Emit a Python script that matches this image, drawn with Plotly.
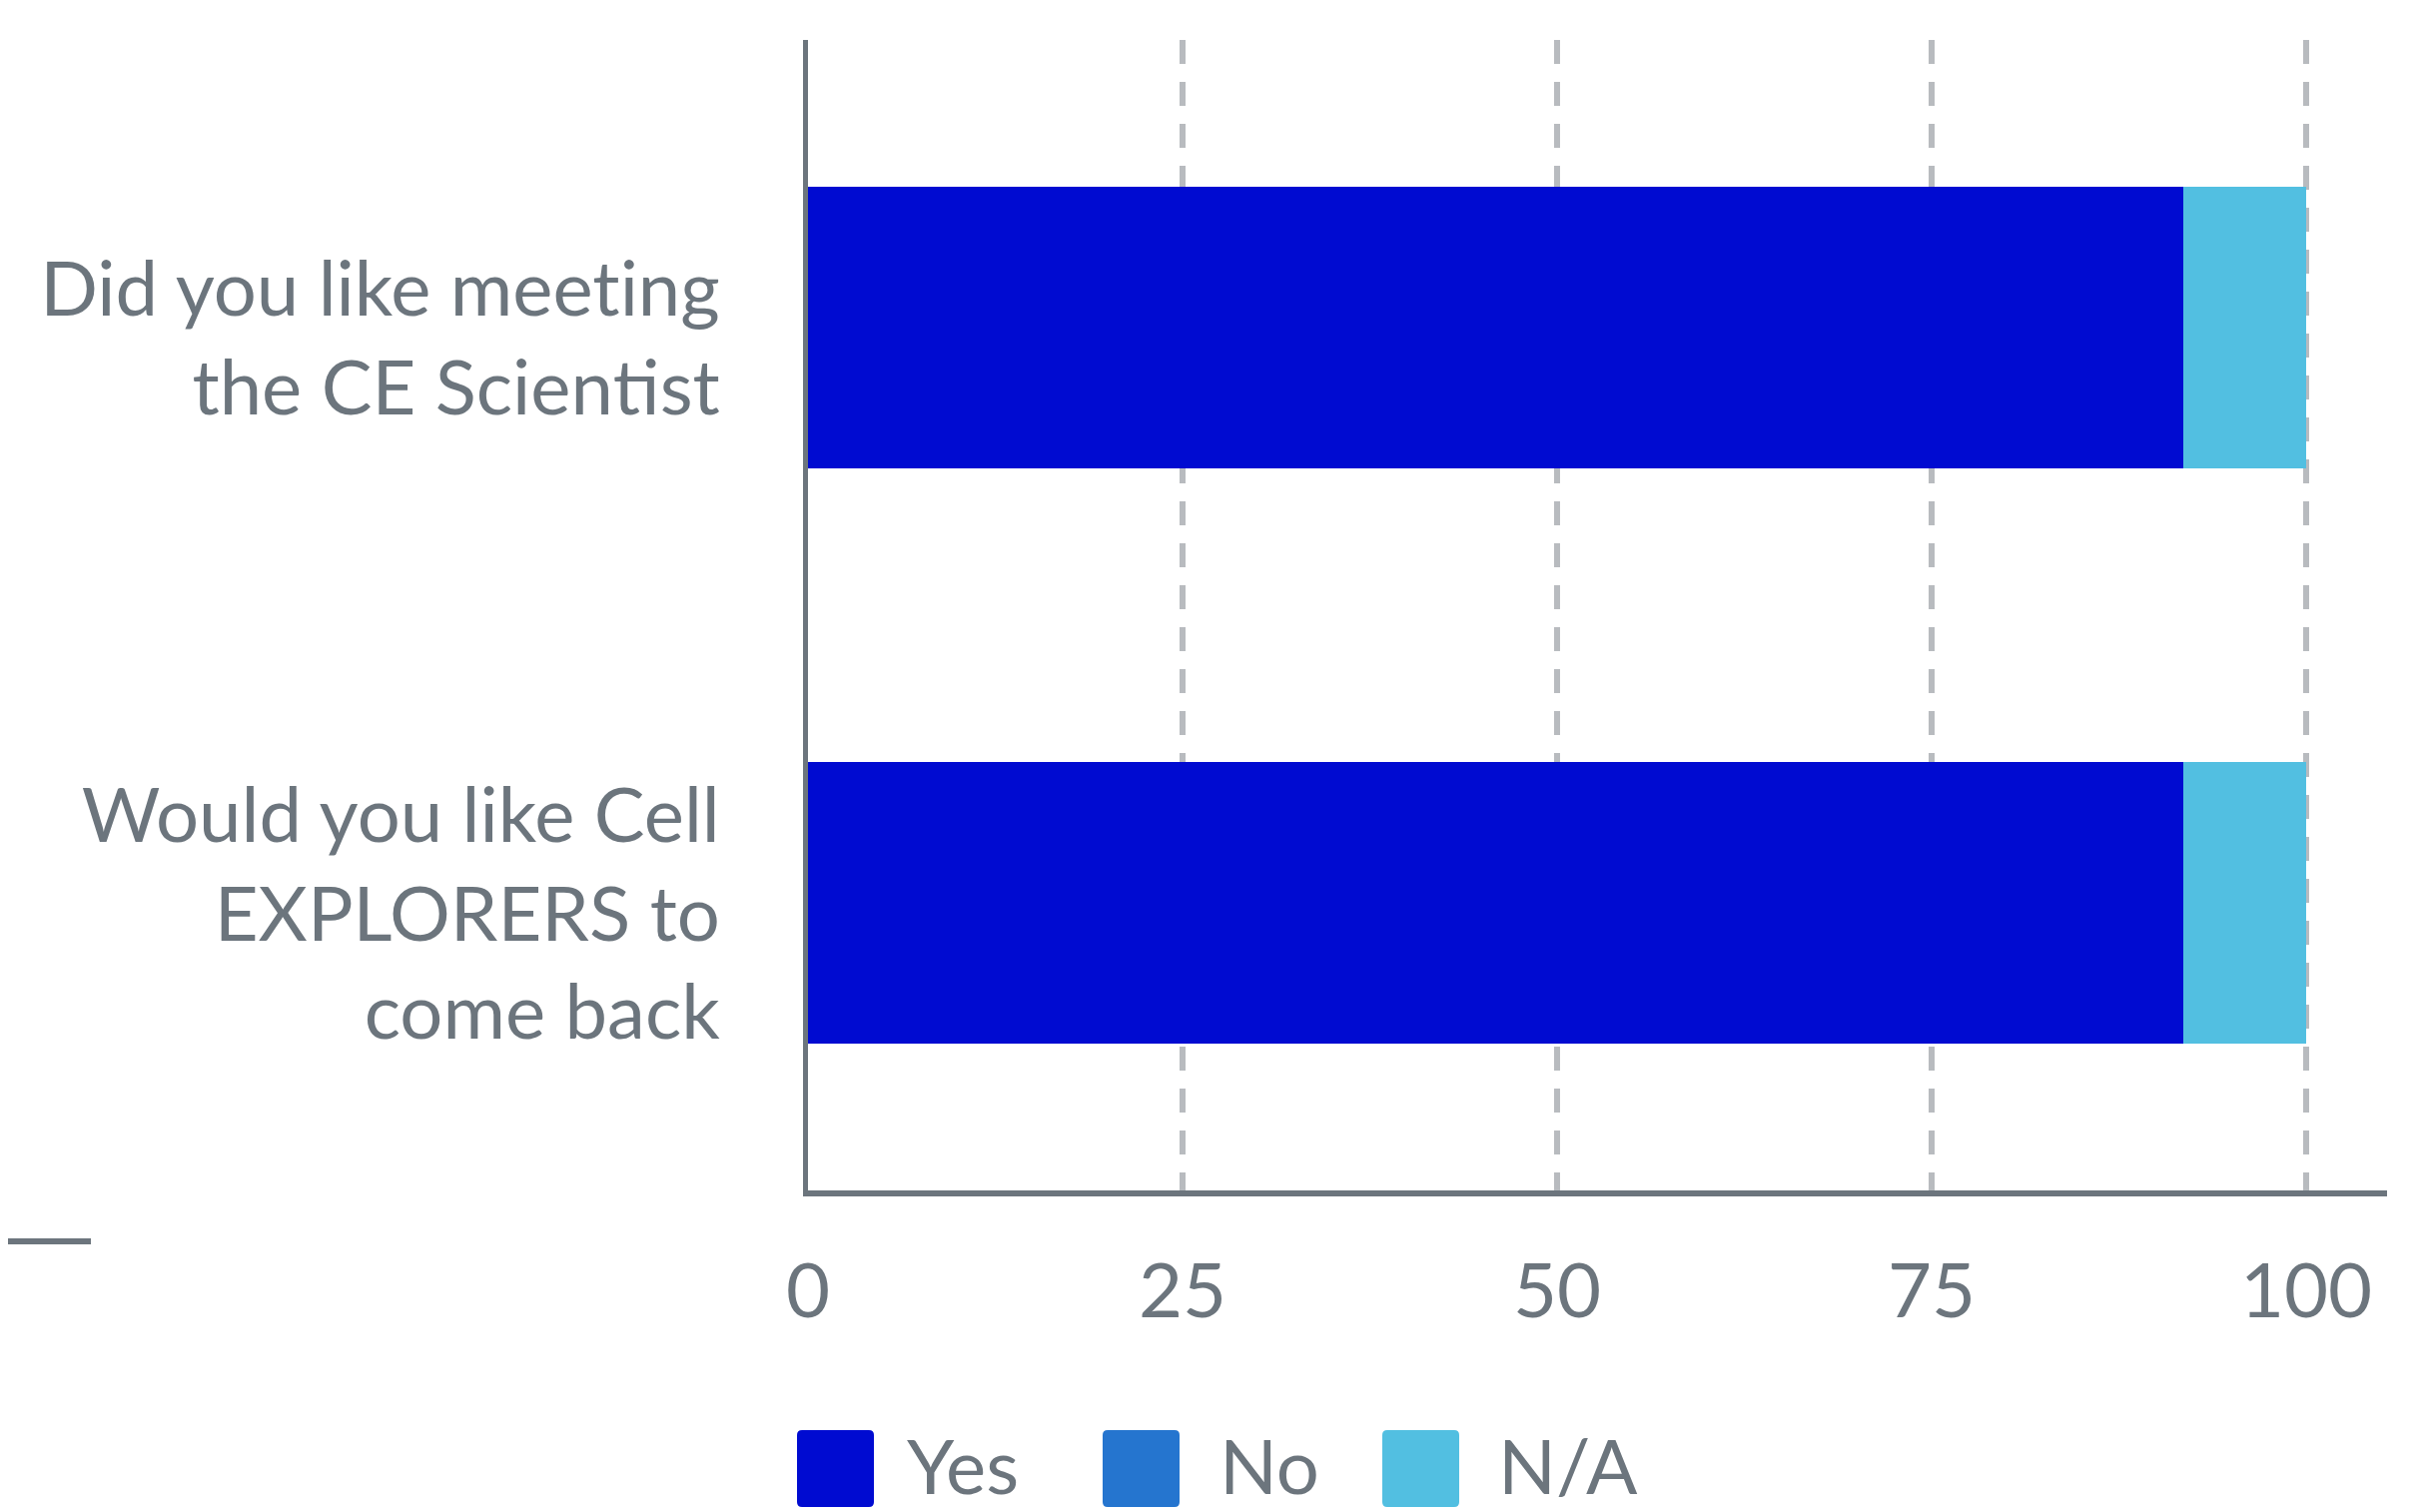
import plotly.graph_objects as go

ZW = "\u200c"  # keeps the "ti" pair from merging into a ligature
categories = [f"Did you like meet{ZW}ing<br>the CE Scien{ZW}tist",
              "Would you like Cell<br>EXPLORERS to<br>come back"]
series_names = ["Yes", "No", "N/A"]
yes_values = [91.8, 91.8]
no_values = [0, 0]
na_values = [8.2, 8.2]
series_colors = ["#000bd1", "#2575cf", "#52bfe1"]
x_ticks = [0, 25, 50, 75, 100]

TEXT = "#6c757d"
FONT = "Lato, 'Open Sans', sans-serif"

# page body offset compensation
OFFX, OFFY = 5, 8
L, R, T, B = 806 - OFFX, 44, 40 - OFFY, 322
W, H = 2431 - OFFX, 1514 - OFFY
PW = W - L - R
PH = H - T - B

fig = go.Figure()
for name, vals, col in zip(series_names, [yes_values, no_values, na_values], series_colors):
    fig.add_trace(go.Bar(
        y=categories, x=vals, name=name, orientation="h",
        marker=dict(color=col, line=dict(width=0)),
        showlegend=False, hoverinfo="skip",
    ))

fig.update_layout(
    width=W, height=H,
    barmode="stack", bargap=0.512,
    paper_bgcolor="white", plot_bgcolor="white",
    margin=dict(l=L, r=R, t=T, b=B, pad=0),
    font=dict(family=FONT, color=TEXT, size=76),
    xaxis=dict(
        range=[0, 105.4], tickvals=x_ticks, ticktext=[str(v) for v in x_ticks],
        showgrid=True, gridcolor="#b8bbbf", gridwidth=6, griddash="24px,18px",
        zeroline=False, showline=True, linecolor=TEXT, linewidth=6,
        ticks="", ticklabelstandoff=30,
        tickfont=dict(family=FONT, color=TEXT, size=76),
    ),
    yaxis=dict(
        autorange="reversed", categoryorder="array", categoryarray=categories,
        showgrid=False, zeroline=False, showline=True, linecolor=TEXT, linewidth=5,
        ticks="", ticklabelstandoff=68, ticklabelshift=-11,
        tickfont=dict(family=FONT, color=TEXT, size=76),
    ),
)

def px_x(p):
    return (p - OFFX - L) / PW

def px_y(p):
    return (T + PH - (p - OFFY)) / PH

# stray rule at the left edge
fig.add_shape(type="line", xref="paper", yref="paper",
              x0=px_x(0), x1=px_x(88), y0=px_y(1243), y1=px_y(1243),
              line=dict(color=TEXT, width=6))

# custom legend (big rounded swatches)
legend_boxes = [795, 1101, 1381]
legend_text_x = [903, 1216, 1495]
for name, col, bx, tx in zip(series_names, series_colors, legend_boxes, legend_text_x):
    x0, x1 = px_x(bx), px_x(bx + 77)
    y0, y1 = px_y(1509), px_y(1432)
    r = 5
    rx, ry = r / PW, r / PH
    path = (f"M {x0+rx},{y0} L {x1-rx},{y0} Q {x1},{y0} {x1},{y0+ry} "
            f"L {x1},{y1-ry} Q {x1},{y1} {x1-rx},{y1} L {x0+rx},{y1} "
            f"Q {x0},{y1} {x0},{y1-ry} L {x0},{y0+ry} Q {x0},{y0} {x0+rx},{y0} Z")
    fig.add_shape(type="path", xref="paper", yref="paper", path=path,
                  fillcolor=col, line=dict(width=0))
    fig.add_annotation(xref="paper", yref="paper", x=px_x(tx), y=px_y(1466),
                       text=name, showarrow=False, xanchor="left", yanchor="middle",
                       font=dict(family=FONT, color=TEXT, size=76))

fig.write_html("out.html")
